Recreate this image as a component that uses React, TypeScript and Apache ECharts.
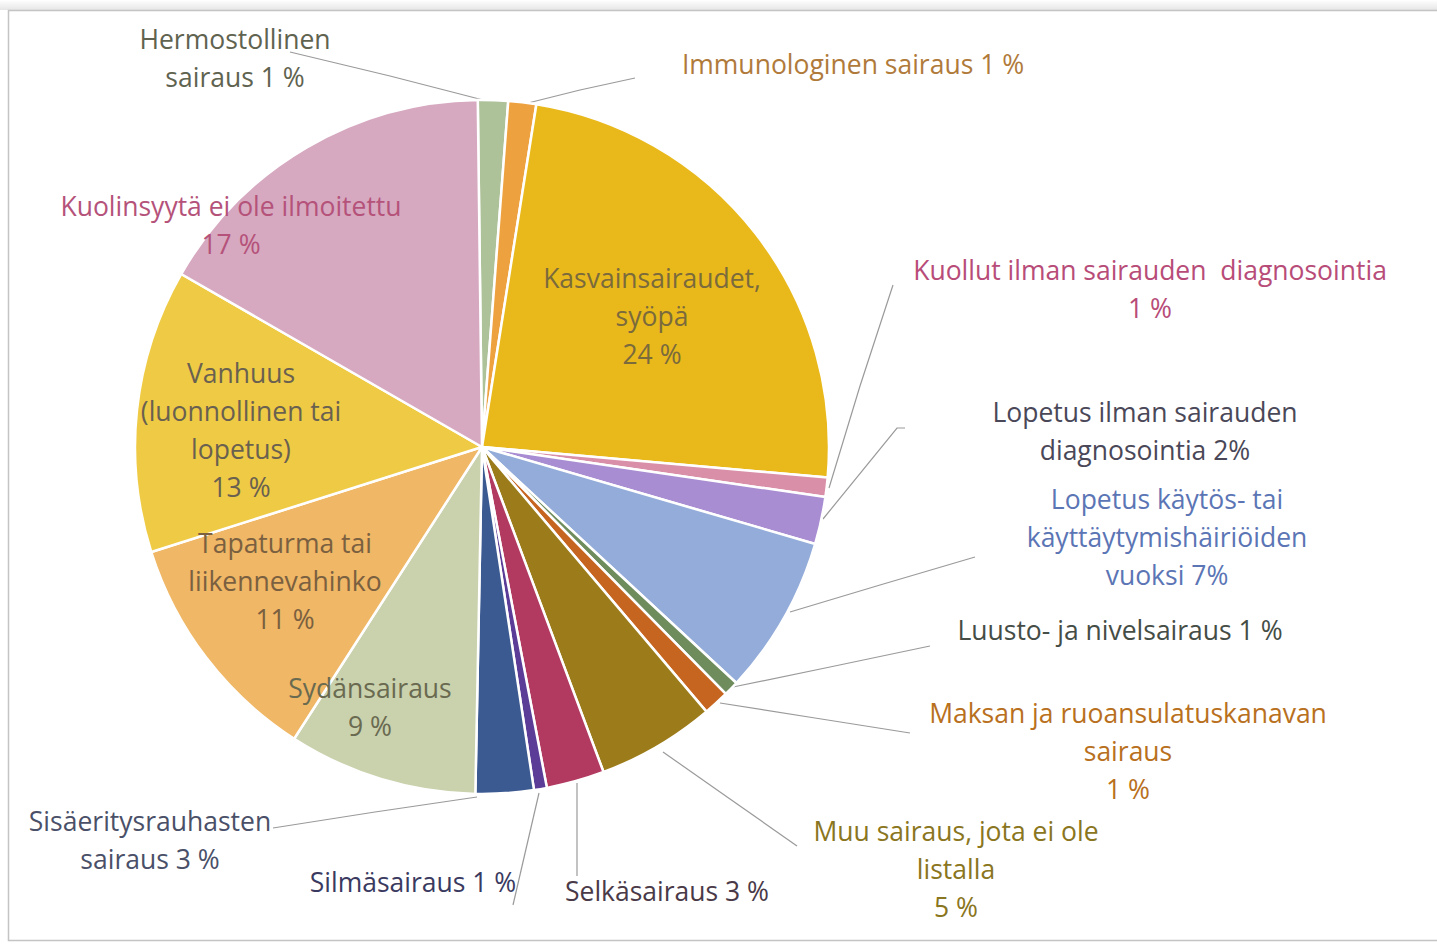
import React, { useEffect, useRef } from "react";
import * as echarts from "echarts";

const categories = [
  "Hermostollinen sairaus",
  "Immunologinen sairaus",
  "Kasvainsairaudet, syöpä",
  "Kuollut ilman sairauden diagnosointia",
  "Lopetus ilman sairauden diagnosointia",
  "Lopetus käytös- tai käyttäytymishäiriöiden vuoksi",
  "Luusto- ja nivelsairaus",
  "Maksan ja ruoansulatuskanavan sairaus",
  "Muu sairaus, jota ei ole listalla",
  "Selkäsairaus",
  "Silmäsairaus",
  "Sisäeritysrauhasten sairaus",
  "Sydänsairaus",
  "Tapaturma tai liikennevahinko",
  "Vanhuus (luonnollinen tai lopetus)",
  "Kuolinsyytä ei ole ilmoitettu",
];

const values = [1.4, 1.3, 23.9, 0.9, 2.2, 7.4, 0.7, 1.2, 5.5, 2.7, 0.6, 2.7, 8.8, 11.0, 13.2, 16.5];

const labelTexts = [
  "Hermostollinen\nsairaus 1 %",
  "Immunologinen sairaus 1 %",
  "Kasvainsairaudet,\nsyöpä\n24 %",
  "Kuollut ilman sairauden  diagnosointia\n1 %",
  "Lopetus ilman sairauden\ndiagnosointia 2%",
  "Lopetus käytös- tai\nkäyttäytymishäiriöiden\nvuoksi 7%",
  "Luusto- ja nivelsairaus 1 %",
  "Maksan ja ruoansulatuskanavan\nsairaus\n1 %",
  "Muu sairaus, jota ei ole\nlistalla\n5 %",
  "Selkäsairaus 3 %",
  "Silmäsairaus 1 %",
  "Sisäeritysrauhasten\nsairaus 3 %",
  "Sydänsairaus\n9 %",
  "Tapaturma tai\nliikennevahinko\n11 %",
  "Vanhuus\n(luonnollinen tai\nlopetus)\n13 %",
  "Kuolinsyytä ei ole ilmoitettu\n17 %",
];

const sliceColors = [
  "#aec29a", "#eea23f", "#e9b91c", "#d98fa8", "#a98dd2", "#93acd9", "#6e8c5c", "#c5651f",
  "#9c7c1a", "#b23a60", "#5b3d98", "#3c5a92", "#c9d1ad", "#efb766", "#efcb45", "#d6a9c0",
];

const textColors = [
  "#5f6350", "#b07a3a", "#7a6a3c", "#b84c78", "#4a4858", "#5b75b5", "#454d46", "#b87020",
  "#8a7520", "#4a3a48", "#3a3a60", "#4a5068", "#6a6a50", "#7a6040", "#6a6050", "#b5527a",
];

// label layout (centres) and leader lines, in page pixels
const labelCenters: number[][] = [
  [235, 58], [853, 64], [652, 316], [1150, 289], [1145, 431], [1167, 537], [1120, 630], [1128, 751],
  [956, 869], [667, 891], [413, 882], [150, 840], [370, 707], [285, 581], [241, 430], [231, 225],
];

const leaderLines: (number[][] | null)[] = [
  [[487, 101], [390, 76], [290, 52]],
  [[528, 103], [580, 90], [635, 78]],
  null,
  [[829, 488], [860, 386], [893, 285]],
  [[823, 519], [897, 428], [905, 428]],
  [[790, 612], [880, 585], [975, 557]],
  [[733, 687], [830, 667], [930, 646]],
  [[720, 703], [815, 718], [910, 733]],
  [[663, 752], [730, 799], [797, 846]],
  [[577, 783], [577, 830], [577, 876]],
  [[539, 793], [526, 849], [513, 905]],
  [[477, 797], [375, 812], [273, 828]],
  null,
  null,
  null,
  null,
];

export default function App() {
  const ref = useRef<HTMLDivElement>(null);
  useEffect(() => {
    document.body.style.margin = "0";
    const chart = echarts.init(ref.current!, null, { renderer: "svg" });
    const data = categories.map((name, i) => ({
      name,
      value: values[i],
      itemStyle: { color: sliceColors[i] },
      label: { color: textColors[i] },
      labelLine: { show: leaderLines[i] != null },
    }));
    chart.setOption({
      animation: false,
      backgroundColor: "#ffffff",
      graphic: [
        {
          type: "rect",
          z: -10,
          shape: { x: 0, y: 0, width: 1437, height: 10 },
          style: {
            fill: new echarts.graphic.LinearGradient(0, 0, 0, 1, [
              { offset: 0, color: "#ffffff" },
              { offset: 1, color: "#e6e6e6" },
            ]),
          },
        },
        {
          type: "rect",
          z: -10,
          shape: { x: 8.5, y: 10.5, width: 1440, height: 930 },
          style: { fill: "#ffffff", stroke: "#c4c4c4", lineWidth: 1.5 },
        },
      ],
      series: [
        {
          type: "pie",
          center: [482, 447],
          radius: 347,
          startAngle: 90.7,
          clockwise: true,
          avoidLabelOverlap: false,
          itemStyle: { borderColor: "#ffffff", borderWidth: 2.5 },
          label: {
            show: true,
            position: "outside",
            fontFamily: "Open Sans",
            fontSize: 26.5,
            lineHeight: 38,
            formatter: (p: any) => labelTexts[p.dataIndex],
          },
          labelLine: {
            show: true,
            lineStyle: { color: "#9a9a9a", width: 1.2 },
          },
          labelLayout: (p: any) => {
            const i = p.dataIndex;
            const res: any = {
              x: labelCenters[i][0],
              y: labelCenters[i][1],
              align: "center",
              verticalAlign: "middle",
            };
            if (leaderLines[i]) res.labelLinePoints = leaderLines[i];
            return res;
          },
          emphasis: { disabled: true },
          data,
        },
      ],
    });
    return () => chart.dispose();
  }, []);
  return <div ref={ref} style={{ width: 1437, height: 944 }} />;
}
